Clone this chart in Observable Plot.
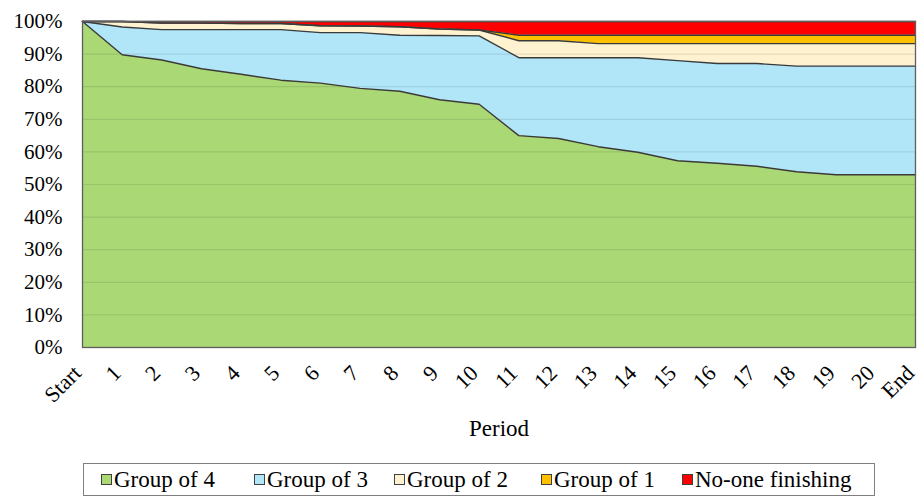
<!DOCTYPE html>
<html><head><meta charset="utf-8">
<script src="https://cdn.jsdelivr.net/npm/d3@7"></script>
<script src="https://cdn.jsdelivr.net/npm/@observablehq/plot@0.6"></script>
<style>
html,body{margin:0;padding:0;background:#fff;}
body{width:917px;height:499px;overflow:hidden;font-family:'Liberation Serif','Times New Roman',Times,'DejaVu Serif',serif;}
#chart svg, #chart svg text{font-family:'Liberation Serif','Times New Roman',Times,'DejaVu Serif',serif !important;}
#legend{position:absolute;left:83px;top:463px;width:792px;height:33px;border:1px solid #7f7f7f;box-sizing:border-box;font-size:23px;color:#000;}
#legend .item{display:flex;align-items:center;position:absolute;top:0;height:31px;white-space:nowrap;}
#legend .sw{display:inline-block;width:11px;height:11px;border:1px solid #404040;margin-right:2px;box-sizing:border-box;}
</style></head><body>
<div id="chart"></div>
<div id="legend"></div>
<script>
const periods = ["Start","1","2","3","4","5","6","7","8","9","10","11","12","13","14","15","16","17","18","19","20","End"];
const seriesNames = ["Group of 4","Group of 3","Group of 2","Group of 1","No-one finishing"];
const seriesColors = ["#a9d875","#b0e6f8","#fff2d0","#ffc000","#ff0000"];
const groupOf4 = [100, 89.8, 88.2, 85.5, 83.8, 82.0, 81.1, 79.5, 78.6, 76.0, 74.6, 65.0, 64.1, 61.6, 59.9, 57.3, 56.5, 55.6, 53.9, 53.0, 53.0, 53.0];
const groupOf3 = [0, 8.5, 9.3, 12.0, 13.7, 15.5, 15.5, 17.1, 17.2, 19.7, 21.0, 23.9, 24.8, 27.3, 29.0, 30.7, 30.6, 31.5, 32.4, 33.3, 33.3, 33.3];
const groupOf2 = [0, 1.7, 2.0, 2.0, 1.9, 1.9, 2.1, 2.0, 2.6, 2.0, 1.8, 5.2, 5.2, 4.3, 4.3, 5.2, 6.1, 6.1, 6.9, 6.9, 6.9, 6.9];
const groupOf1 = [0, 0, 0, 0, 0, 0, 0, 0, 0, 0, 0, 1.7, 1.7, 2.6, 2.6, 2.6, 2.6, 2.6, 2.6, 2.6, 2.6, 2.6];
const noOne = [0, 0, 0.5, 0.5, 0.6, 0.6, 1.3, 1.4, 1.6, 2.3, 2.6, 4.2, 4.2, 4.2, 4.2, 4.2, 4.2, 4.2, 4.2, 4.2, 4.2, 4.2];
const yTicks = [0,10,20,30,40,50,60,70,80,90,100];

const seriesValues = [groupOf4, groupOf3, groupOf2, groupOf1, noOne];
const data = [];
seriesNames.forEach((name, s) => {
  seriesValues[s].forEach((v, i) => data.push({i, period: periods[i], series: name, value: v}));
});

const chart = Plot.plot({
  width: 917,
  height: 450,
  marginLeft: 82,
  marginRight: 2,
  marginTop: 21,
  marginBottom: 103,
  style: "font-family:'Liberation Serif','Times New Roman',Times,serif;font-size:21px;color:#000;background:#fff;overflow:visible;",
  x: {domain: [0, periods.length - 1], ticks: d3.range(periods.length), tickFormat: i => periods[i], tickSize: 0, tickRotate: -45, tickPadding: 17, label: "Period", labelAnchor: "center", labelOffset: 88, labelArrow: "none"},
  y: {domain: [0, 100], ticks: yTicks, tickFormat: d => d + "%", tickSize: 0, tickPadding: 20, label: null},
  color: {domain: seriesNames, range: seriesColors},
  marks: [
    Plot.areaY(data, {x: "i", y: "value", fill: "series", z: "series"}),
    Plot.ruleY(yTicks.slice(1, -1), {stroke: "#000", strokeOpacity: 0.09, strokeWidth: 1.2}),
    Plot.lineY(data, Plot.stackY2({x: "i", y: "value", z: "series", stroke: "#3a3a3a", strokeWidth: 1.4})),
    Plot.frame({stroke: "#5f5f5f", strokeWidth: 1.3})
  ]
});
document.getElementById("chart").appendChild(chart);

// style adjustments: larger rotated x tick labels and axis label
d3.select(chart).selectAll("text").each(function() {
  const t = d3.select(this);
  const tr = (this.getAttribute("transform") || "") + " " + (this.parentNode.getAttribute("transform") || "");
  const txt = this.textContent;
  if (/rotate\(-45/.test(tr) && periods.includes(txt)) t.style("font-size", "22px").attr("dx", -7);
  if (txt === "Period") t.style("font-size", "23px");
});

const legend = document.getElementById("legend");
const lefts = [17, 170, 310, 457, 598];
seriesNames.forEach((name, s) => {
  const it = document.createElement("div");
  it.className = "item";
  it.style.left = lefts[s] + "px";
  const sw = document.createElement("span");
  sw.className = "sw";
  sw.style.background = seriesColors[s];
  it.appendChild(sw);
  it.appendChild(document.createTextNode(name));
  legend.appendChild(it);
});
</script>
</body></html>
